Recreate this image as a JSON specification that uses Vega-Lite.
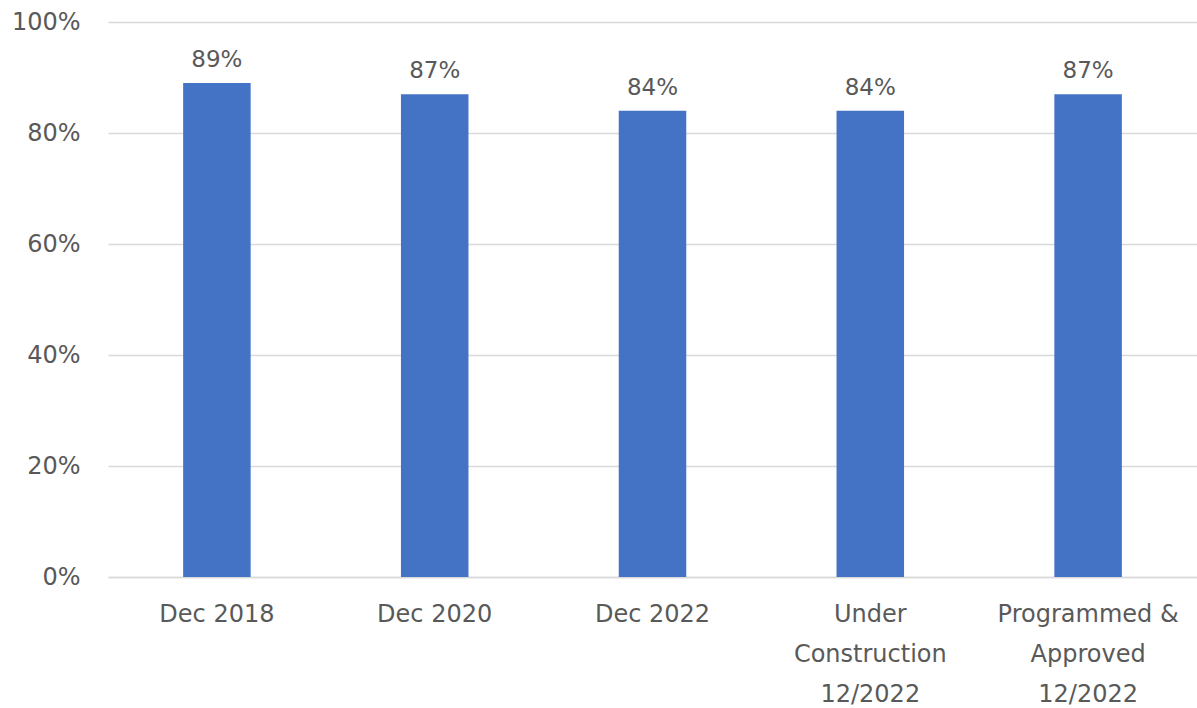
{
  "$schema": "https://vega.github.io/schema/vega-lite/v6.json",
  "width": 1089,
  "height": 555,
  "autosize": {"type": "none"},
  "padding": {"left": 108, "top": 22, "right": 0, "bottom": 131},
  "background": "white",
  "data": {
    "values": [
      {"period": "Dec 2018", "share": 0.89},
      {"period": "Dec 2020", "share": 0.87},
      {"period": "Dec 2022", "share": 0.84},
      {"period": "Under|Construction|12/2022", "share": 0.84},
      {"period": "Programmed &|Approved|12/2022", "share": 0.87}
    ]
  },
  "config": {
    "view": {"stroke": null},
    "font": "DejaVu Sans",
    "axis": {"labelFont": "DejaVu Sans", "labelColor": "#595959", "labelFontSize": 24, "labelLimit": 400}
  },
  "encoding": {
    "x": {
      "field": "period",
      "type": "nominal",
      "sort": null,
      "scale": {"paddingInner": 0.69, "paddingOuter": 0.345},
      "axis": {
        "title": null,
        "labelAngle": 0,
        "labelExpr": "split(datum.value, '|')",
        "labelLineHeight": 40,
        "labelPadding": 25,
        "labelBaseline": "top",
        "ticks": false,
        "domainColor": "#d9d9d9",
        "domainWidth": 1.5
      }
    },
    "y": {
      "field": "share",
      "type": "quantitative",
      "scale": {"domain": [0, 1], "nice": false},
      "axis": {
        "title": null,
        "format": ".0%",
        "values": [0, 0.2, 0.4, 0.6, 0.8, 1],
        "domain": false,
        "ticks": false,
        "labelPadding": 28,
        "gridColor": "#d9d9d9",
        "gridWidth": 1.5
      }
    }
  },
  "layer": [
    {"mark": {"type": "bar", "color": "#4472C4"}},
    {
      "mark": {"type": "text", "dy": -23, "fontSize": 23, "color": "#595959", "font": "DejaVu Sans"},
      "encoding": {"text": {"field": "share", "type": "quantitative", "format": ".0%"}}
    }
  ]
}
